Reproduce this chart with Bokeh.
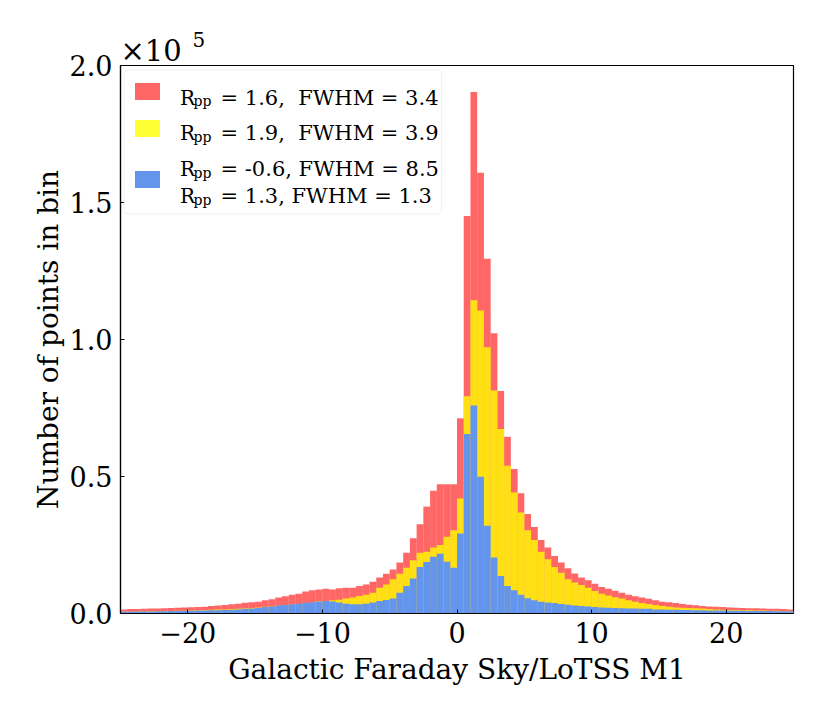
import numpy as np
from bokeh.plotting import figure
from bokeh.models import (FixedTicker, CustomJSTickFormatter, Label, BoxAnnotation, Title)
from bokeh.embed import file_html
from bokeh.resources import INLINE

# ---- data (counts per 0.5-wide bin from -25 to 25) ----
x_start, x_end, bin_width = -25.0, 25.0, 0.5

red_counts = [
    1500, 1600, 1600, 1700, 1800, 1800, 1900, 2000, 2100, 2200,
    2300, 2400, 2500, 2700, 2900, 3100, 3400, 3600, 3900, 4100,
    4300, 4800, 5200, 5800, 6300, 6800, 7200, 8000, 8500, 8800,
    9000, 8800, 9200, 9400, 9400, 10000, 10600, 11600, 13100, 14500,
    16100, 18600, 22200, 27500, 32600, 39000, 44800, 47200, 47200, 47200,
    71300, 145100, 190300, 160900, 129500, 102300, 81200, 64500, 52700, 43900,
    36300, 31600, 26800, 24100, 21000, 18600, 16500, 14600, 13100, 12100,
    10900, 9700, 9000, 8300, 7600, 6800, 6300, 5800, 5400, 4800,
    4300, 4100, 3800, 3500, 3200, 3000, 2700, 2600, 2500, 2400,
    2200, 2100, 2000, 1900, 1900, 1800, 1700, 1700, 1600, 1500]

yellow_counts = [
    600, 600, 700, 700, 800, 800, 900, 900, 1000, 1000,
    1100, 1200, 1300, 1400, 1500, 1500, 1600, 1700, 1900, 2000,
    2200, 2500, 2600, 2800, 3000, 3300, 3500, 3800, 4000, 4500,
    4600, 4800, 5000, 5500, 5800, 6400, 6800, 7600, 9400, 10600,
    12500, 14500, 16700, 19400, 22200, 22500, 24100, 25000, 28000, 30400,
    42000, 79300, 114300, 110600, 97200, 81400, 67300, 53900, 44200, 36900,
    30400, 26800, 22500, 19800, 17000, 14900, 12500, 11300, 10400, 9400,
    8200, 7200, 6600, 5900, 5500, 4800, 4300, 3800, 3500, 3100,
    2700, 2500, 2200, 2100, 2000, 1900, 1800, 1600, 1500, 1400,
    1300, 1300, 1200, 1200, 1100, 1100, 1000, 1000, 900, 900]

blue_counts = [
    600, 600, 700, 700, 700, 800, 800, 900, 900, 1000,
    1000, 1100, 1100, 1200, 1200, 1300, 1400, 1500, 1700, 1800,
    2000, 2400, 2600, 2900, 3100, 3400, 3600, 3900, 4100, 4400,
    4600, 4400, 4000, 3600, 3400, 3400, 3600, 4000, 4600, 4900,
    5500, 7600, 10000, 12800, 17000, 18800, 20700, 21800, 18900, 16700,
    29200, 65500, 75900, 49900, 32000, 20400, 13700, 10000, 8500, 6800,
    5600, 4800, 4300, 4000, 3800, 3500, 3200, 2900, 2700, 2600,
    2400, 2200, 2100, 2000, 1900, 1800, 1800, 1700, 1700, 1500,
    1500, 1400, 1400, 1300, 1300, 1200, 1200, 1100, 1100, 1100,
    1000, 1000, 1000, 900, 900, 900, 900, 800, 800, 800]

legend_lines = [
    ["= 1.6,\u00a0\u00a0FWHM = 3.4"],
    ["= 1.9,\u00a0\u00a0FWHM = 3.9"],
    ["= -0.6, FWHM = 8.5", "= 1.3, FWHM = 1.3"],
]
x_ticks = [-20, -10, 0, 10, 20]
y_ticks = [0, 50000, 100000, 150000, 200000]
x_label = "Galactic Faraday Sky/LoTSS M1"
y_label = "Number of points in bin"
offset_base, offset_exp = "\u00d710", "5"

# ---- styling ----
FONT = "DejaVu Serif"
RED, YELLOW, BLUE = "red", "yellow", "cornflowerblue"
RED_A, YELLOW_A, BLUE_A = 0.6, 0.8, 1.0

n_bins = len(red_counts)
edges = x_start + bin_width * np.arange(n_bins + 1)
left, right = edges[:-1], edges[1:]

p = figure(x_range=(x_start, x_end), y_range=(0, 200000),
           frame_width=673, frame_height=548,
           min_border_left=120, min_border_top=65,
           min_border_right=15, min_border_bottom=92,
           output_backend="svg", toolbar_location=None,
           background_fill_color="white")

p.quad(left=left, right=right, bottom=0, top=red_counts,
       fill_color=RED, fill_alpha=RED_A, line_color=None)
p.quad(left=left, right=right, bottom=0, top=yellow_counts,
       fill_color=YELLOW, fill_alpha=YELLOW_A, line_color=None)
p.quad(left=left, right=right, bottom=0, top=blue_counts,
       fill_color=BLUE, fill_alpha=BLUE_A, line_color=None)

p.xgrid.visible = False
p.ygrid.visible = False
p.outline_line_color = "black"
p.outline_line_width = 1.2

for ax in (p.xaxis[0], p.yaxis[0]):
    ax.axis_line_color = "black"
    ax.axis_line_width = 1.2
    ax.major_tick_in = 4
    ax.major_tick_out = 0
    ax.minor_tick_line_color = None
    ax.major_label_text_font = FONT
    ax.major_label_text_font_size = "27px"
    ax.major_label_text_color = "black"
    ax.axis_label_text_font = FONT
    ax.axis_label_text_font_size = "28px"
    ax.axis_label_text_font_style = "normal"
    ax.axis_label_text_color = "black"

p.xaxis.ticker = FixedTicker(ticks=x_ticks)
p.yaxis.ticker = FixedTicker(ticks=y_ticks)
p.xaxis.formatter = CustomJSTickFormatter(
    code="return tick < 0 ? '\u2212' + Math.abs(tick) : String(tick);")
p.yaxis.formatter = CustomJSTickFormatter(
    code="return (tick / 1e5).toFixed(1);")
p.xaxis.axis_label = x_label
p.yaxis.axis_label = y_label
p.xaxis.major_label_standoff = 8
p.yaxis.major_label_standoff = 8
p.xaxis.axis_label_standoff = 7
p.yaxis.axis_label_standoff = 2

# offset text x10^5 (above the frame): base then raised exponent
p.add_layout(Title(text=offset_base, align="left", offset=0, standoff=-4,
                   text_font=FONT, text_font_size="29px",
                   text_font_style="normal", text_color="black"), "above")
p.add_layout(Title(text=offset_exp, align="left", offset=72, standoff=-26,
                   text_font=FONT, text_font_size="20px",
                   text_font_style="normal", text_color="black"), "above")

# custom legend (frame-relative screen units, y from bottom)
p.add_layout(BoxAnnotation(left=3.5, right=321, top=543.5, bottom=399.5,
                           left_units="screen", right_units="screen",
                           top_units="screen", bottom_units="screen",
                           fill_color="white", fill_alpha=0.8,
                           line_color="#cccccc", line_width=1,
                           border_radius=4))
patch_specs = [(RED, RED_A, 530.5), (YELLOW, YELLOW_A, 493.5), (BLUE, BLUE_A, 442.5)]
for col, alpha, top in patch_specs:
    p.add_layout(BoxAnnotation(left=14.5, right=39.5, top=top, bottom=top - 17,
                               left_units="screen", right_units="screen",
                               top_units="screen", bottom_units="screen",
                               fill_color=col, fill_alpha=alpha, line_color=None))

baselines = [[515.8], [480.5], [444.5, 417.5]]
for lines, bls in zip(legend_lines, baselines):
    for txt, bl in zip(lines, bls):
        p.add_layout(Label(x=59.5, y=bl, x_units="screen", y_units="screen",
                           text="R", text_font=FONT, text_font_size="20px",
                           text_baseline="alphabetic", text_color="black"))
        p.add_layout(Label(x=73, y=bl - 3.5, x_units="screen", y_units="screen",
                           text="pp", text_font=FONT, text_font_size="14px",
                           text_baseline="alphabetic", text_color="black"))
        p.add_layout(Label(x=100, y=bl, x_units="screen", y_units="screen",
                           text=txt, text_font=FONT, text_font_size="21px",
                           text_baseline="alphabetic", text_color="black"))

open("out.html", "w").write(file_html(p, INLINE))
